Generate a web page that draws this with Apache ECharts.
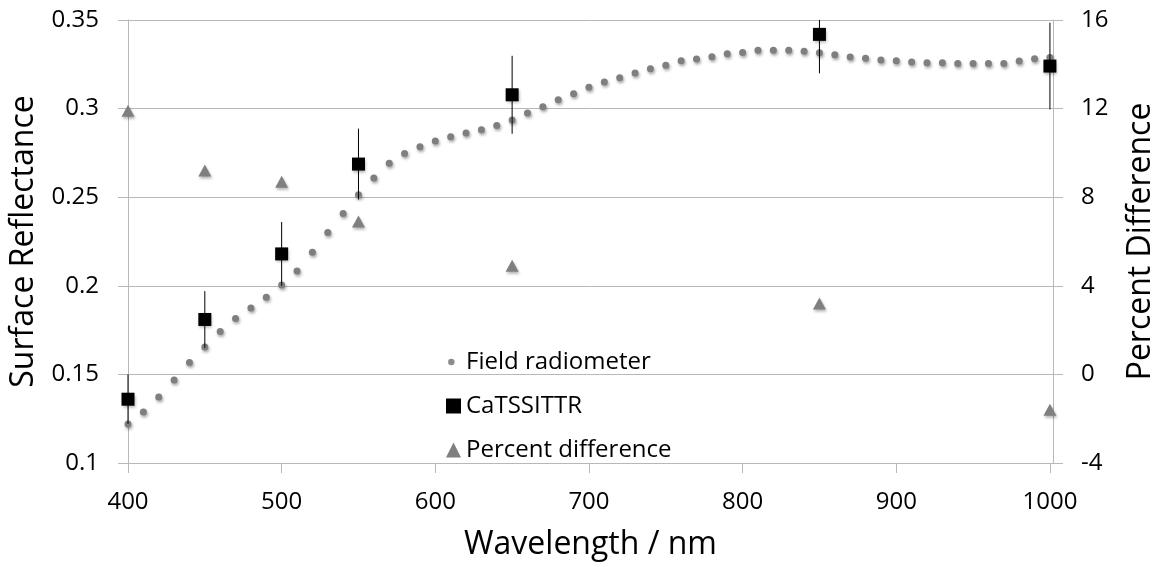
<!DOCTYPE html>
<html>
<head>
<meta charset="utf-8">
<script src="https://cdn.jsdelivr.net/npm/echarts@6/dist/echarts.min.js"></script>
<style>
html,body{margin:0;padding:0;background:#fff;}
#chart{width:1165px;height:567px;}
</style>
</head>
<body>
<div id="chart"></div>
<script>
// ---- data ----
const fieldWavelengths = [400,410,420,430,440,450,460,470,480,490,500,510,520,530,540,550,560,570,580,590,600,610,620,630,640,650,660,670,680,690,700,710,720,730,740,750,760,770,780,790,800,810,820,830,840,850,860,870,880,890,900,910,920,930,940,950,960,970,980,990,1000];
const fieldReflectance = [0.122,0.1288,0.1373,0.1469,0.1567,0.1655,0.1742,0.1815,0.1875,0.1936,0.2005,0.2084,0.219,0.2301,0.2408,0.2514,0.2608,0.2691,0.2747,0.2785,0.2817,0.2841,0.2862,0.2881,0.2905,0.2935,0.2975,0.3010,0.3050,0.3084,0.3120,0.3150,0.3174,0.3201,0.3225,0.3244,0.3270,0.3280,0.3293,0.3310,0.3317,0.3329,0.3329,0.3329,0.3323,0.3315,0.3304,0.3291,0.3284,0.3274,0.3270,0.3263,0.3259,0.3259,0.3255,0.3255,0.3255,0.3255,0.3268,0.3282,0.3289];
const bandWavelengths = [400,450,500,550,650,850,1000];
const catssittrReflectance = [0.136,0.181,0.218,0.2687,0.3078,0.3419,0.324];
const catssittrError = [0.014,0.016,0.018,0.020,0.022,0.022,0.0245];
const percentDifference = [11.9,9.2,8.7,6.9,4.9,3.2,-1.6];
const xTicks = [400,500,600,700,800,900,1000];
const seriesNames = ['Field radiometer','CaTSSITTR','Percent difference'];

const FONT = 'Open Sans';
const GRID = '#b8b8b8';
const GREY = '#7f7f7f';

const circleIcon = 'image://data:image/svg+xml;utf8,' + encodeURIComponent(
  '<svg xmlns="http://www.w3.org/2000/svg" width="14" height="14"><circle cx="5" cy="7" r="3" fill="#8c8c8c"/></svg>');

const chart = echarts.init(document.getElementById('chart'), null, {renderer:'canvas'});
const option = {
  animation: false,
  backgroundColor: '#fff',
  textStyle: {fontFamily: FONT},
  grid: {left: 128, right: 108, top: 20, bottom: 104},
  legend: {
    orient: 'vertical', left: 441, top: 345,
    itemWidth: 15, itemHeight: 15, itemGap: 20,
    textStyle: {fontFamily: FONT, fontSize: 24, color: '#000'},
    data: [
      {name: seriesNames[0], icon: circleIcon},
      {name: seriesNames[1], icon: 'rect'},
      {name: seriesNames[2], icon: 'triangle'}
    ]
  },
  xAxis: {
    type: 'value', min: 400, max: 1002, interval: 100,
    name: 'Wavelength / nm', nameLocation: 'middle', nameGap: 66,
    nameTextStyle: {fontFamily: FONT, fontSize: 32, color: '#000'},
    axisLine: {show: true, onZero: false, lineStyle: {color: GRID, width: 1}},
    axisTick: {show: true, length: 10, inside: false, lineStyle: {color: GRID}, customValues: xTicks},
    axisLabel: {fontFamily: FONT, fontSize: 24, color: '#000', margin: 27, customValues: xTicks,
                formatter: v => String(v)},
    splitLine: {show: false}
  },
  yAxis: [
    {
      type: 'value', min: 0.1, max: 0.35, interval: 0.05, position: 'left',
      name: 'Surface Reflectance', nameLocation: 'middle', nameGap: 88, nameRotate: 90,
      nameTextStyle: {fontFamily: FONT, fontSize: 32, color: '#000'},
      axisLine: {show: true, lineStyle: {color: GRID, width: 1}},
      axisTick: {show: true, length: 10, lineStyle: {color: GRID}},
      axisLabel: {fontFamily: FONT, fontSize: 24, color: '#000', margin: 29},
      splitLine: {show: true, lineStyle: {color: GRID, width: 1}}
    },
    {
      type: 'value', min: -4, max: 16, interval: 4, position: 'right',
      name: 'Percent Difference', nameLocation: 'middle', nameGap: 72, nameRotate: 90,
      nameTextStyle: {fontFamily: FONT, fontSize: 32, color: '#000'},
      axisLine: {show: true, lineStyle: {color: GRID, width: 1}},
      axisTick: {show: true, length: 10, lineStyle: {color: GRID}},
      axisLabel: {fontFamily: FONT, fontSize: 24, color: '#000', margin: 28},
      splitLine: {show: false}
    }
  ],
  series: [
    {
      name: seriesNames[0], type: 'scatter', yAxisIndex: 0, z: 2,
      symbol: 'circle', symbolSize: 7,
      itemStyle: {color: GREY, opacity: 1, shadowColor: 'rgba(0,0,0,0.35)', shadowBlur: 3, shadowOffsetX: 1, shadowOffsetY: 2},
      data: fieldWavelengths.map((w, i) => [w, fieldReflectance[i]])
    },
    {
      name: 'errorbars', type: 'custom', yAxisIndex: 0, z: 3,
      renderItem: function (params, api) {
        const x = api.value(0), y = api.value(1), e = api.value(2);
        const top = api.coord([x, y + e]);
        const bot = api.coord([x, y - e]);
        const cs = params.coordSys;
        const yTop = Math.max(top[1], cs.y);
        const yBot = Math.min(bot[1], cs.y + cs.height);
        return {type: 'line', shape: {x1: top[0], y1: yTop, x2: bot[0], y2: yBot},
                style: {stroke: '#000', lineWidth: 1}};
      },
      data: bandWavelengths.map((w, i) => [w, catssittrReflectance[i], catssittrError[i]])
    },
    {
      name: seriesNames[1], type: 'scatter', yAxisIndex: 0, z: 4,
      symbol: 'rect', symbolSize: 13,
      itemStyle: {color: '#000', opacity: 1, shadowColor: 'rgba(0,0,0,0.3)', shadowBlur: 3, shadowOffsetX: 1, shadowOffsetY: 2},
      data: bandWavelengths.map((w, i) => [w, catssittrReflectance[i]])
    },
    {
      name: seriesNames[2], type: 'scatter', yAxisIndex: 1, z: 4,
      symbol: 'triangle', symbolSize: [13, 12],
      itemStyle: {color: GREY, opacity: 1, shadowColor: 'rgba(0,0,0,0.3)', shadowBlur: 3, shadowOffsetX: 1, shadowOffsetY: 2},
      data: bandWavelengths.map((w, i) => [w, percentDifference[i]])
    }
  ]
};
chart.setOption(option);
</script>
</body>
</html>
